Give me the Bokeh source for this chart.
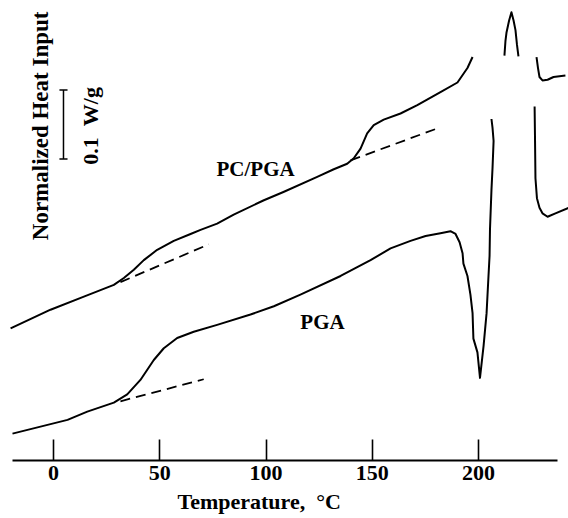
import math
from bokeh.plotting import figure
from bokeh.models import FixedTicker, Title
from bokeh.core.properties import value
from bokeh.embed import file_html
from bokeh.resources import INLINE

# ---- data (Temperature in degC, normalized heat input in W/g, arbitrary offset) ----
pc_T = [-20.2, -1.4, 14.3, 28.4, 33.1, 37.8, 42.5, 48.8, 56.6, 64.5, 69.2, 77.0, 84.8, 99.0,
        108.2, 124.1, 131.9, 138.2, 141.3, 144.5, 147.6, 150.7, 155.4, 163.3, 171.2, 182.1,
        190.1, 194.8, 197.2]
pc_Q = [0.192, 0.219, 0.238, 0.255, 0.265, 0.277, 0.291, 0.306, 0.319, 0.329, 0.335, 0.344,
        0.357, 0.378, 0.390, 0.412, 0.423, 0.431, 0.439, 0.453, 0.475, 0.487, 0.495, 0.504,
        0.516, 0.535, 0.549, 0.570, 0.586]
pc_peak_T = [212.2, 212.7, 213.2, 214.4, 215.5, 216.5, 217.4, 218.1, 218.8]
pc_peak_Q = [0.588, 0.610, 0.622, 0.639, 0.651, 0.639, 0.625, 0.604, 0.587]
pc_end_T = [227.3, 228.0, 228.7, 230.1, 232.5, 235.3, 240.9]
pc_end_Q = [0.586, 0.570, 0.557, 0.552, 0.553, 0.557, 0.559]
pc_base1_T = [31.5, 73.1]
pc_base1_Q = [0.259, 0.314]
pc_base2_T = [139.8, 181.2]
pc_base2_Q = [0.436, 0.483]

pga_T = [-19.3, 6.6, 15.9, 28.4, 34.7, 40.9, 47.2, 51.9, 58.2, 66.0, 77.0, 92.7, 103.7,
         116.2, 135.1, 149.2, 158.6, 168.0, 175.1, 182.1, 186.8, 189.2, 191.1, 192.5, 192.9,
         194.8, 196.2, 197.2, 197.6, 199.5, 200.7, 202.4, 203.8, 204.7, 205.2, 205.4, 206.1,
         206.6, 207.1, 206.6, 206.1]
pga_Q = [0.039, 0.059, 0.071, 0.084, 0.096, 0.117, 0.146, 0.163, 0.178, 0.187, 0.197, 0.212,
         0.224, 0.241, 0.268, 0.291, 0.308, 0.319, 0.326, 0.330, 0.333, 0.329, 0.317, 0.301,
         0.286, 0.268, 0.241, 0.214, 0.177, 0.157, 0.120, 0.167, 0.214, 0.268, 0.297, 0.335,
         0.393, 0.425, 0.464, 0.483, 0.496]
pga_end_T = [226.4, 226.6, 226.8, 227.5, 228.7, 230.1, 232.5, 236.2, 242.4]
pga_end_Q = [0.514, 0.465, 0.410, 0.381, 0.367, 0.359, 0.354, 0.359, 0.367]
pga_base_T = [31.5, 70.7]
pga_base_Q = [0.086, 0.118]

x_ticks = [0, 50, 100, 150, 200]
scale_bar_low = 0.438
scale_bar_size = 0.1

# ---- figure ----
FONT = value("Liberation Serif")
NB = "\u00a0"
p = figure(width=568, height=518, output_backend="svg", toolbar_location=None,
           x_range=(-24.94, 242.35), y_range=(0.0, 0.6681),
           y_axis_location=None, min_border_left=0, min_border_right=0,
           min_border_top=0, min_border_bottom=57)
p.outline_line_color = None
p.grid.visible = False

ax = p.xaxis[0]
ax.ticker = FixedTicker(ticks=x_ticks)
ax.bounds = (-19.3, 237.2)
ax.axis_line_width = 2
ax.axis_line_color = "black"
ax.major_tick_in = 21
ax.major_tick_out = 0
ax.major_tick_line_width = 1.6
ax.major_tick_line_color = "black"
ax.minor_tick_line_color = None
ax.major_label_text_font = "Liberation Serif"
ax.major_label_text_font_style = "bold"
ax.major_label_text_font_size = "22px"
ax.major_label_text_color = "black"
ax.major_label_standoff = 5

p.add_layout(Title(text="Temperature," + NB + NB + "\u00b0C", align="left", offset=177,
                   standoff=9, text_font="Liberation Serif", text_font_style="bold",
                   text_font_size="22px", text_color="black"), "below")

LW = 2
for xs, ys in [(pc_T, pc_Q), (pc_peak_T, pc_peak_Q), (pc_end_T, pc_end_Q),
               (pga_T, pga_Q), (pga_end_T, pga_end_Q)]:
    p.line(xs, ys, line_color="black", line_width=LW, line_join="round")
for xs, ys in [(pc_base1_T, pc_base1_Q), (pc_base2_T, pc_base2_Q), (pga_base_T, pga_base_Q)]:
    p.line(xs, ys, line_color="black", line_width=1.8, line_dash="10 6")

# scale bar
bx = 4.7
p.segment(x0=[bx], y0=[scale_bar_low], x1=[bx], y1=[scale_bar_low + scale_bar_size],
          line_color="black", line_width=1.5)
p.segment(x0=[bx - 1.9, bx - 1.9], y0=[scale_bar_low, scale_bar_low + scale_bar_size],
          x1=[bx + 1.9, bx + 1.9], y1=[scale_bar_low, scale_bar_low + scale_bar_size],
          line_color="black", line_width=1.5)

def txt(x, y, s, angle=0.0, size="21px"):
    p.text(x=[x], y=[y], text=[s], angle=angle, text_font=FONT, text_font_style="bold",
           text_font_size=size, text_align="center", text_baseline="middle",
           text_color="black")

txt(-6.1, 0.486, "Normalized Heat Input", angle=math.pi / 2, size="23px")
txt(17.6, 0.486, "0.1" + NB + NB + "W/g", angle=math.pi / 2, size="22px")
txt(95.1, 0.424, "PC/PGA")
txt(126.6, 0.201, "PGA")

open("out.html", "w").write(file_html(p, INLINE))
